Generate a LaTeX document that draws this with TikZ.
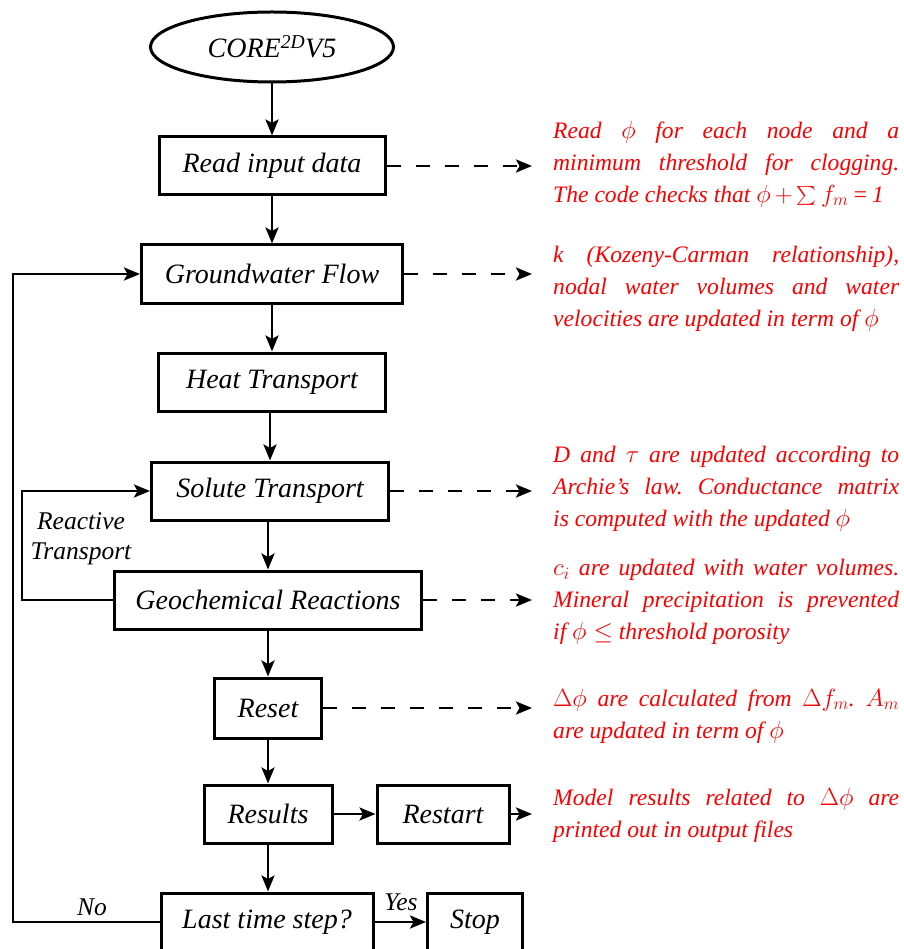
\documentclass[tikz,border=0pt]{standalone}
\usepackage{fontspec}
\setmainfont{Liberation Serif}
\usepackage{amsmath,amssymb}
\usepackage{tikz}
\usetikzlibrary{shapes,arrows.meta,positioning,calc}
\usepackage{xcolor}
\definecolor{notered}{RGB}{250,0,0}
\tikzstyle{process} = [rectangle, draw, line width=3pt, minimum height=58pt,
                       text centered, font=\fontsize{28}{32}\selectfont\itshape]
\tikzstyle{note} = [anchor=west, inner sep=0pt, text width=346pt, align=justify,
                    text=notered, font=\fontsize{23.6}{32}\selectfont\itshape]
\tikzstyle{tag} = [inner sep=0pt, font=\fontsize{25.5}{30}\selectfont\itshape]
\tikzstyle{arrow} = [line width=2.6pt, ->, >={Stealth[length=16pt,width=13pt,inset=3.5pt]}]
\tikzstyle{dasharrow} = [arrow, dash pattern=on 14pt off 15pt]
\hyphenpenalty=10000
\frenchspacing

\begin{document}
\begin{tikzpicture}[x=1pt, y=-1pt]
                \clip (0,0) rectangle (903,949);
                
                % Start
                \node[ellipse, draw, line width=3pt, minimum width=243pt, minimum height=70pt,
                      font=\fontsize{28}{32}\selectfont\itshape] (core) at (272,47) {CORE\textsuperscript{2D}V5};
                
                % Main column
                \node[process, minimum width=226pt] (readin) at (272,166) {Read input data};
                \node[process, minimum width=261pt] (gwflow) at (272,274) {Groundwater Flow};
                \node[process, minimum width=227pt] (heat) at (272,382) {Heat Transport};
                \node[process, minimum width=237pt] (solute) at (270,491) {Solute Transport};
                \node[process, minimum width=307pt] (geochem) at (268,600) {Geochemical Reactions};
                \node[process, minimum width=107pt, minimum height=60pt] (reset) at (268,708) {Reset};
                \node[process, minimum width=128pt] (results) at (268,814) {Results};
                \node[process, minimum width=132pt] (restart) at (443,814) {Restart};
                \node[process, minimum width=212pt] (laststep) at (267,922) {Last time step?};
                \node[process, minimum width=95pt] (stop) at (475,922) {Stop};
                
                % Loop columns and arrow tips
                \coordinate (outer) at (13,0);
                \coordinate (inner) at (22,0);
                \coordinate (tips) at (532,0);
                
                % Notes
                \node[note] (noteread) at (553,164) {Read $\phi$ for each node and a\linebreak minimum threshold for clogging.\linebreak The code checks that $\phi\,{+}\,\raisebox{1pt}{\scalebox{0.8}{$\sum$}}\, f_m$\,=\,1};
                \node[note] (notegw) at (553,289) {k (Kozeny-Carman relationship),\linebreak nodal water volumes and water\linebreak \mbox{velocities are updated in term of $\phi$}};
                \node[note] (notesolute) at (553,489) {D and $\tau$ are updated according to\linebreak Archie’s law. Conductance matrix\linebreak is computed with the updated $\phi$};
                \node[note] (notegeo) at (553,602) {$c_i$ are updated with water volumes.\linebreak Mineral precipitation is prevented\linebreak if $\phi\leq$ threshold porosity};
                \node[note] (notereset) at (553,716) {$\Delta\phi$ are calculated from $\Delta f_m$. $A_m$\linebreak are updated in term of $\phi$};
                \node[note] (noteresults) at (553,815) {Model results related to $\Delta\phi$ are\linebreak printed out in output files};
                
                % Labels
                \node[tag] (no) at (92,907) {No};
                \node[tag] (yes) at (401,902) {Yes};
                \node[tag, align=center] (reactive) at (81,539) {Reactive\\Transport};
                
                % Arrows
                \draw[arrow] (core) -- (readin);
                \draw[arrow] (readin) -- (gwflow);
                \draw[arrow] (gwflow) -- (heat);
                \draw[arrow] (solute.north |- heat.south) -- (solute.north);
                \draw[arrow] (geochem.north |- solute.south) -- (geochem.north);
                \draw[arrow] (geochem) -- (reset);
                \draw[arrow] (reset) -- (results);
                \draw[arrow] (results.south) -- (results.south |- laststep.north);
                \draw[arrow] (results) -- (restart);
                \draw[arrow] (restart.east) -- (restart.east -| tips);
                \draw[arrow] (laststep) -- (stop);
                \draw[arrow] (laststep.west) -| (outer |- gwflow) -- (gwflow.west);
                \draw[arrow] (geochem.west) -| (inner |- solute) -- (solute.west);
                
                % Dashed links to notes
                \draw[dasharrow] (readin.east) -- (readin.east -| tips);
                \draw[dasharrow] (gwflow.east) -- (gwflow.east -| tips);
                \draw[dasharrow] (solute.east) -- (solute.east -| tips);
                \draw[dasharrow] (geochem.east) -- (geochem.east -| tips);
                \draw[dasharrow] (reset.east) -- (reset.east -| tips);
            \end{tikzpicture}
\end{document}
